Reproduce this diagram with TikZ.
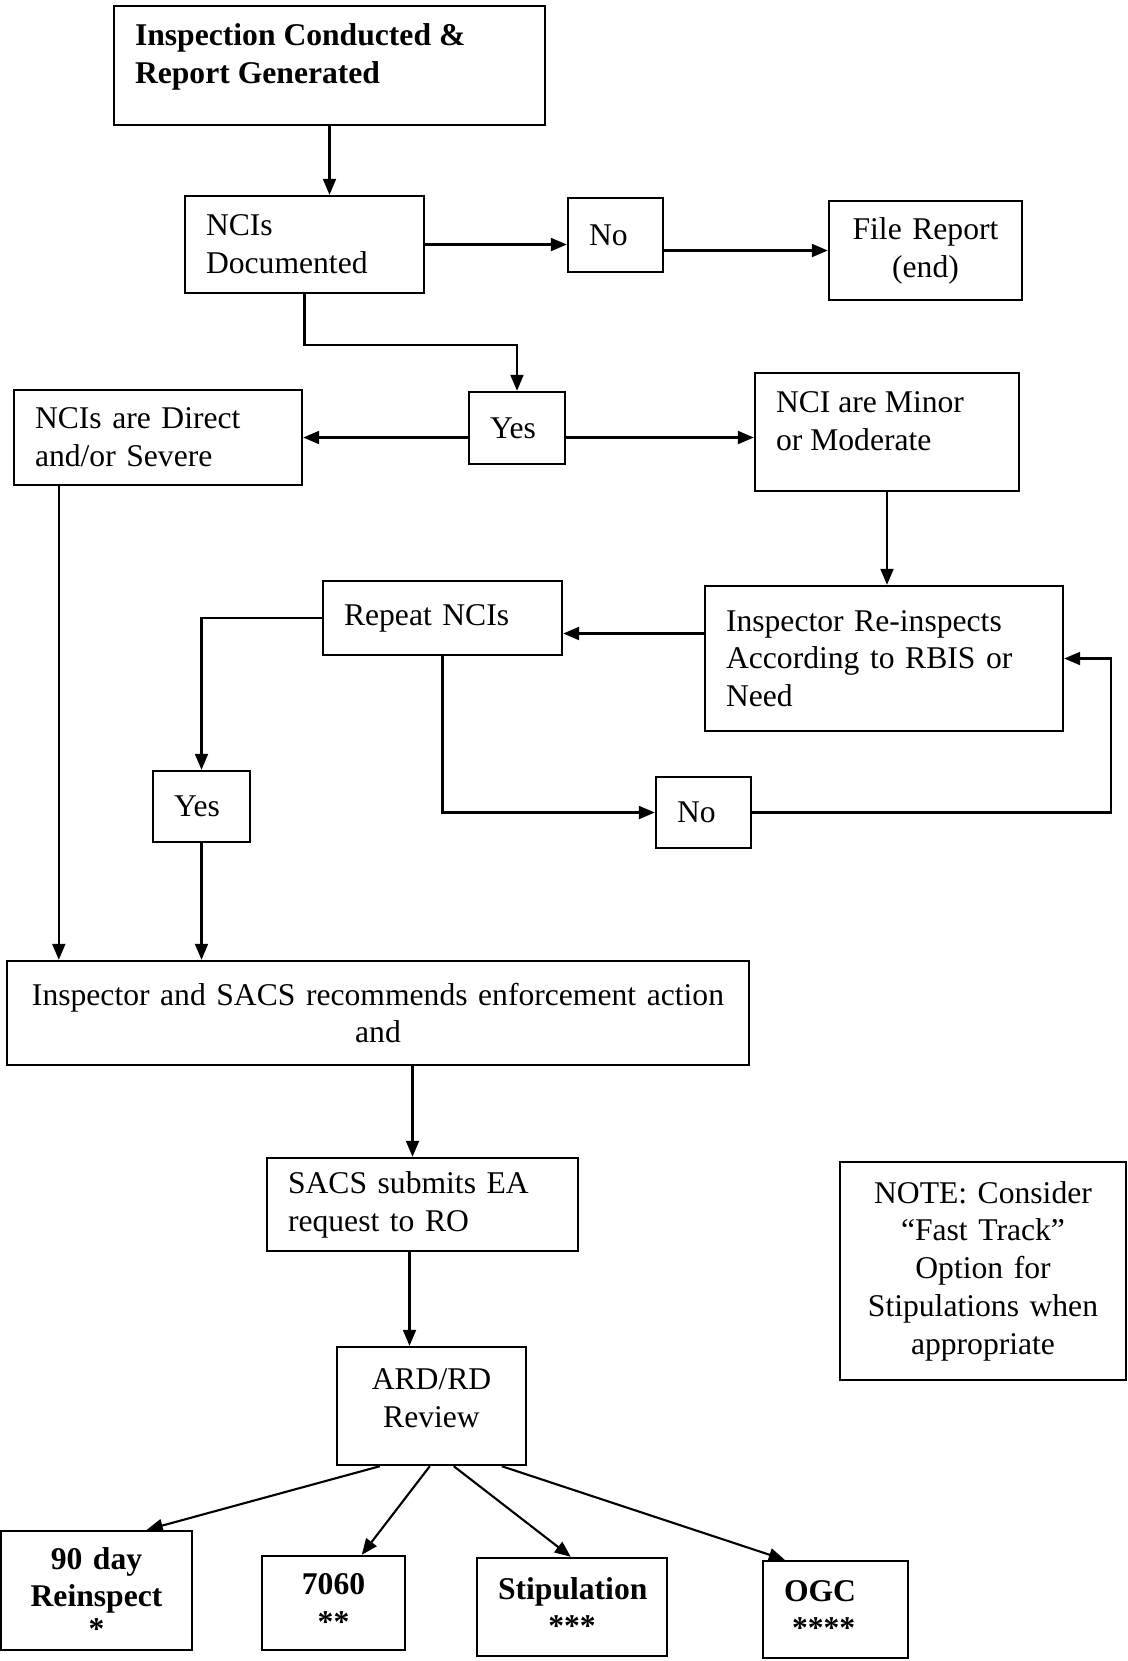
\documentclass[tikz,border=0pt]{standalone}
\usepackage{fontspec}
\setmainfont{Liberation Serif}
\usetikzlibrary{arrows.meta, calc, positioning}

\begin{document}
\begin{tikzpicture}[x=0.02cm, y=-0.02cm,
    box/.style={draw, line width=1.4pt, inner xsep=0.42cm, inner ysep=0pt, align=left,
      font=\fontsize{18}{21.5}\selectfont},
    cbox/.style={box, align=center},
    bbox/.style={cbox, font=\fontsize{18}{21.5}\selectfont\bfseries},
    arr/.style={-{Triangle[length=0.32cm, width=0.26cm]}, line width=1.2pt}]
  \useasboundingbox (0,0) rectangle (1128,1661);

  % boxes
  \node[box, inner ysep=0.35cm, font=\fontsize{18}{21.5}\selectfont\bfseries] (insp) at (329.5,65.5)
    {\parbox[c][1.68cm][t]{7.78cm}{Inspection Conducted \&\\Report Generated}};
  \node[box, text width=3.94cm, minimum height=1.94cm] (ncis) at (304.5,244.5) {NCIs\\Documented};
  \node[box, text width=1.06cm, minimum height=1.48cm] (no1) at (615.5,235) {No};
  \node[cbox, text width=3.02cm, minimum height=1.98cm] (file) at (925.5,250.5) {File Report\\(end)};
  \node[box, text width=1.08cm, minimum height=1.44cm] (yes1) at (517,428) {Yes};
  \node[box, text width=4.92cm, minimum height=1.90cm] (severe) at (158,437.5) {NCIs are Direct\\and/or Severe};
  \node[box, inner ysep=0.38cm] (minor) at (887,432)
    {\parbox[c][1.60cm][t]{4.44cm}{NCI are Minor\\or Moderate}};
  \node[box, text width=6.32cm, minimum height=2.90cm] (reinsp) at (884,658.5)
    {Inspector Re-inspects\\According to RBIS or\\Need};
  \node[box, text width=3.94cm, minimum height=1.48cm] (repeat) at (442.5,618) {Repeat NCIs};
  \node[box, text width=1.10cm, minimum height=1.42cm] (yes2) at (201.5,806.5) {Yes};
  \node[box, text width=1.06cm, minimum height=1.42cm] (no2) at (703.5,812.5) {No};
  \node[cbox, text width=14.0cm, minimum height=2.08cm] (recommend) at (378,1013)
    {Inspector and SACS recommends enforcement action\\and};
  \node[box, text width=5.38cm, minimum height=1.86cm] (submit) at (422.5,1204.5) {SACS submits EA\\request to RO};
  \node[cbox, text width=4.88cm, minimum height=4.36cm] (note) at (983,1271)
    {NOTE: Consider\\“Fast Track”\\Option for\\Stipulations when\\appropriate};
  \node[box, inner ysep=0.43cm] (ard) at (431.5,1406)
    {\parbox[c][1.50cm][t]{2.94cm}{\centering ARD/RD\\Review}};
  \node[bbox, text width=2.98cm, minimum height=2.38cm] (r90) at (96.5,1590.5)
    {\\[-0.2cm]90 day\\Reinspect\\[-0.1cm]{*}};
  \node[bbox, text width=2.02cm, minimum height=1.88cm] (r7060) at (333.5,1603) {7060\\{**}};
  \node[bbox, text width=2.96cm, minimum height=1.96cm] (stip) at (572,1607) {Stipulation\\{***}};
  \node[box, text width=2.06cm, minimum height=1.94cm, font=\fontsize{18}{21.5}\selectfont\bfseries]
    (ogc) at (835.5,1609.5) {OGC\\\hspace*{0.16cm}****};

  % helper points
  \coordinate (c1) at ($(submit.north)+(-10,0)$);
  \coordinate (c2) at ($(ard.north)+(-22,0)$);
  \coordinate (c3) at ($(reinsp.west)+(0,-25)$);
  \coordinate (c4) at ($(severe.south west)+(46,0)$);

  % connectors
  \draw[arr] (insp.south) -- (insp.south |- ncis.north);
  \draw[arr] (ncis.east) -- (ncis.east -| no1.west);
  \draw[arr] (no1.east |- file.west) -- (file.west);
  \draw[arr] (ncis.south) -- ++(0,51) -| (yes1.north);
  \draw[arr] (yes1.west |- severe.east) -- (severe.east);
  \draw[arr] (yes1.east |- severe.east) -- (minor.west |- severe.east);
  \draw[arr] (minor.south) -- (minor.south |- reinsp.north);
  \draw[arr] (c3) -- (c3 -| repeat.east);
  \draw[arr] (repeat.west) -| (yes2.north);
  \draw[arr] (repeat.south) |- (no2.west);
  \draw[arr] (no2.east) -- ++(359,0) |- (reinsp.east);
  \draw[arr] (c4) -- (c4 |- recommend.north);
  \draw[arr] (yes2.south) -- (yes2.south |- recommend.north);
  \draw[arr] (c1 |- recommend.south) -- (c1);
  \draw[arr] (c2 |- submit.south) -- (c2);
  \draw[arr] ($(ard.south west)+(44,0)$) -- ($(r90.north west)+(147,0)$);
  \draw[arr] ($(ard.south west)+(94,0)$) -- ($(r7060.north west)+(101,0)$);
  \draw[arr] ($(ard.south west)+(118,0)$) -- ($(stip.north west)+(95,0)$);
  \draw[arr] ($(ard.south west)+(166,0)$) -- ($(ogc.north west)+(23,0)$);
\end{tikzpicture}
\end{document}
